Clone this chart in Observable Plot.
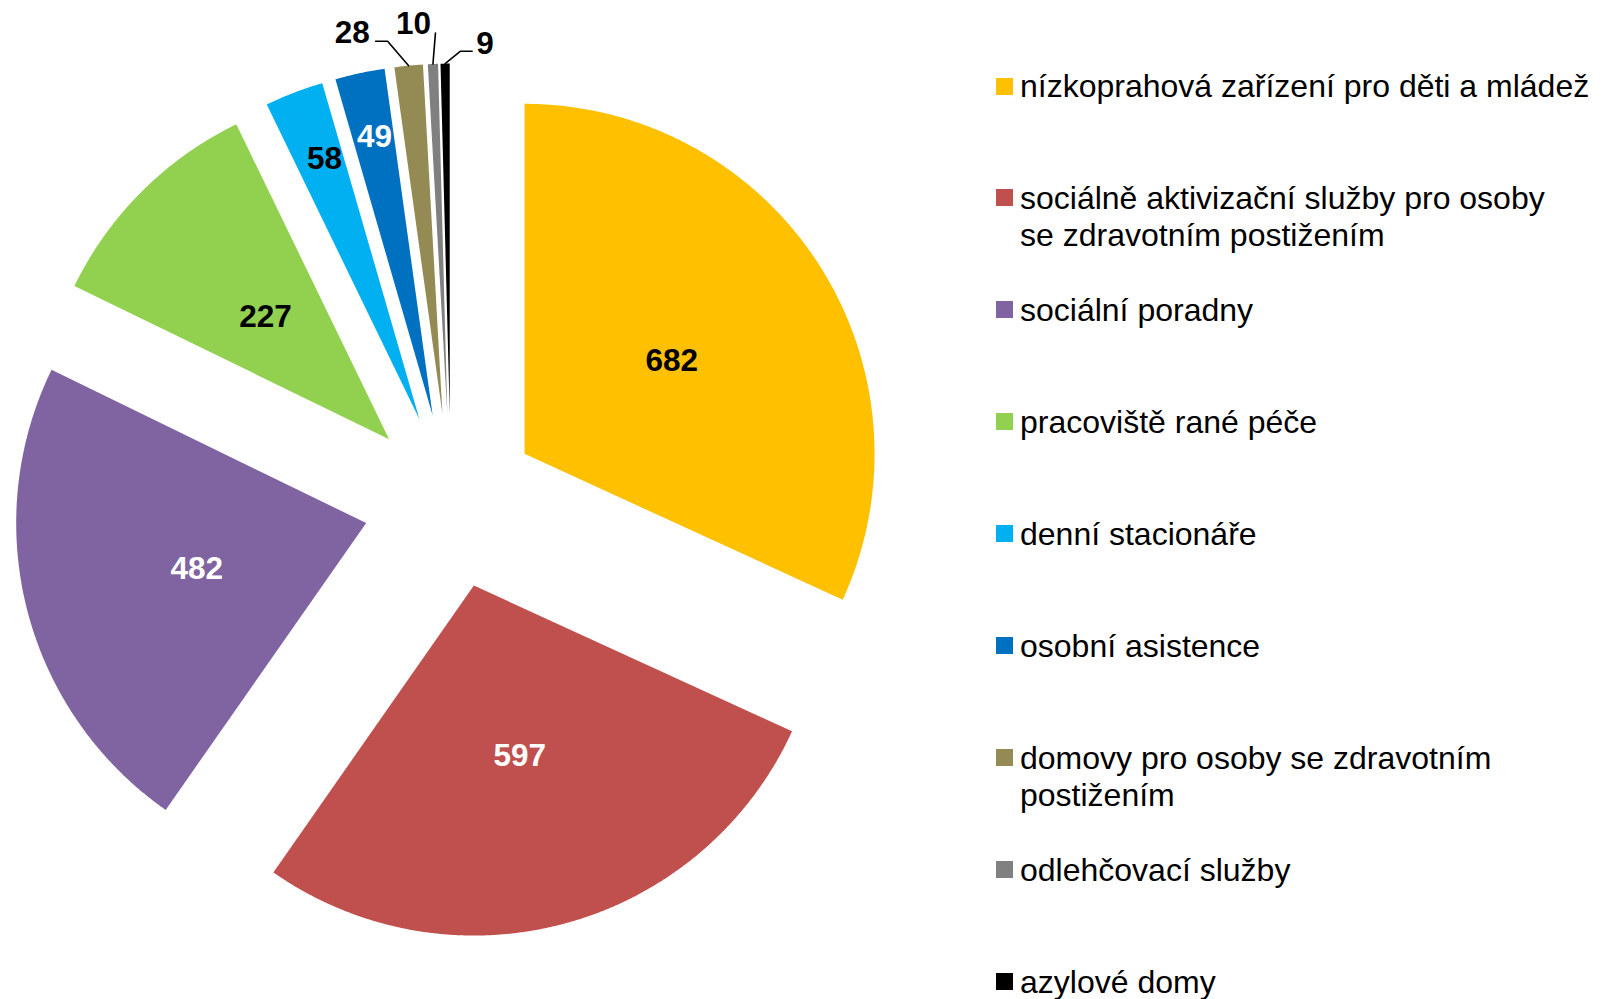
<!DOCTYPE html>
<html><head><meta charset="utf-8">
<script src="https://cdn.jsdelivr.net/npm/d3@7"></script>
<script src="https://cdn.jsdelivr.net/npm/@observablehq/plot@0.6"></script>
<style>
html,body{margin:0;padding:0;background:#fff;}
#wrap{position:relative;width:1607px;height:999px;overflow:hidden;font-family:"Liberation Sans",Arial,sans-serif;}
#wrap svg{position:absolute;left:0;top:0;}
.item{position:absolute;left:996px;}
.sw{position:absolute;left:0;top:0;width:17px;height:17px;}
.lab{position:absolute;left:24px;top:-9.1px;font-size:32px;line-height:37px;white-space:pre;color:#000;}
</style></head><body><div id="wrap"></div>
<script>
// ---- data ----
const categories = [
  "nízkoprahová zařízení pro děti a mládež",
  "sociálně aktivizační služby pro osoby\nse zdravotním postižením",
  "sociální poradny",
  "pracoviště rané péče",
  "denní stacionáře",
  "osobní asistence",
  "domovy pro osoby se zdravotním\npostižením",
  "odlehčovací služby",
  "azylové domy"
];
const values = [682, 597, 482, 227, 58, 49, 28, 10, 9];

// ---- styles ----
const colors = ["#FFC000","#C0504D","#8064A2","#92D050","#00B0F0","#0070C0","#948A54","#808080","#000000"];
const whiteLabel = [false, true, true, false, false, true, false, false, false];

// ---- layout ----
const W = 1607, H = 999;
const CX = 450.4, CY = 500.6, R = 350, EXPLODE = 87.5;
const labelRadius = [0.5, 0.5, 0.5, 0.5, 0.797, 0.82];   // inside labels (fraction of R from apex)
const labelTurn = [0, 0, 0, 0, 1.1, 0.3];                 // degrees
const callouts = [                                        // outside labels: offsets from arc midpoint
  {label: [-56.4, -35], path: [[0, 0], [-21, -24.4], [-33, -24.4]]},
  {label: [-19.5, -42.5], path: [[0, 0], [2.5, -30.8]]},
  {label: [40, -21.5], path: [[0, 0], [15.4, -12.4], [27, -12.4]]}
];

const total = d3.sum(values);
const pt = (ox, oy, r, a) => [ox + r * Math.sin(a), oy - r * Math.cos(a)];

const pieRows = [], labelRows = [], leaderRows = [];
let acc = 0;
values.forEach((v, i) => {
  const a0 = acc / total * 2 * Math.PI;
  acc += v;
  const a1 = acc / total * 2 * Math.PI;
  const mid = (a0 + a1) / 2;
  const [ax, ay] = pt(CX, CY, EXPLODE, mid);
  const cat = categories[i];
  pieRows.push({category: cat, x: ax, y: ay});
  const n = Math.max(2, Math.ceil((a1 - a0) / (Math.PI / 720)));
  for (let k = 0; k <= n; k++) {
    const [x, y] = pt(ax, ay, R, a0 + (a1 - a0) * k / n);
    pieRows.push({category: cat, x, y});
  }
  pieRows.push({category: cat, x: ax, y: ay});
  if (i < labelRadius.length) {
    const [lx, ly] = pt(ax, ay, R * labelRadius[i], mid + labelTurn[i] * Math.PI / 180);
    labelRows.push({text: String(v), x: lx, y: ly, white: whiteLabel[i]});
  } else {
    const c = callouts[i - labelRadius.length];
    const [px, py] = pt(ax, ay, R, mid);
    labelRows.push({text: String(v), x: px + c.label[0], y: py + c.label[1], white: whiteLabel[i]});
    c.path.forEach(([dx, dy]) => leaderRows.push({i, x: px + dx, y: py + dy}));
  }
});

const chart = Plot.plot({
  width: W, height: H,
  margin: 0,
  x: {domain: [0, W], range: [0, W], axis: null},
  y: {domain: [0, H], range: [0, H], axis: null},
  color: {domain: categories, range: colors},
  style: {fontFamily: '"Liberation Sans", Arial, sans-serif', background: "#fff"},
  marks: [
    Plot.line(pieRows, {x: "x", y: "y", z: "category", fill: "category", stroke: "none", curve: "linear"}),
    Plot.line(leaderRows, {x: "x", y: "y", z: "i", stroke: "#000", strokeWidth: 1.6}),
    Plot.text(labelRows.filter(d => !d.white), {x: "x", y: "y", dy: 2, text: "text", fill: "#000", fontSize: 31.5, fontWeight: "bold"}),
    Plot.text(labelRows.filter(d => d.white), {x: "x", y: "y", dy: 2, text: "text", fill: "#fff", fontSize: 31.5, fontWeight: "bold"})
  ]
});
const wrap = document.getElementById("wrap");
wrap.appendChild(chart);

// ---- legend ----
categories.forEach((c, i) => {
  const center = 86 + 111.9 * i;
  const item = document.createElement("div");
  item.className = "item";
  item.style.top = (center - 8.5) + "px";
  const sw = document.createElement("div");
  sw.className = "sw";
  sw.style.background = colors[i];
  const lab = document.createElement("div");
  lab.className = "lab";
  lab.textContent = c;
  item.appendChild(sw);
  item.appendChild(lab);
  wrap.appendChild(item);
});
</script></body></html>
